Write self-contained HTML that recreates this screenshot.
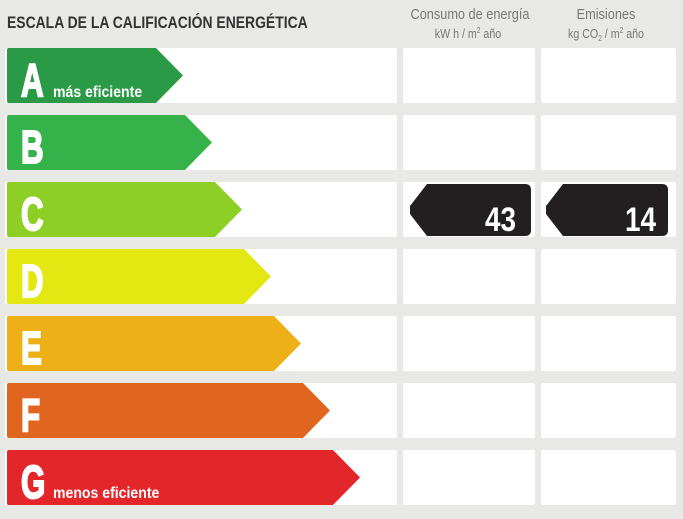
<!DOCTYPE html>
<html><head><meta charset="utf-8"><style>
html,body{margin:0;padding:0;background:#e8e8e7;}
svg{display:block;}
text{font-family:"Liberation Sans",sans-serif;}
</style></head><body>
<svg width="683" height="519" viewBox="0 0 683 519" xmlns="http://www.w3.org/2000/svg">
<rect width="683" height="519" fill="#e8e8e7"/>
<text x="7" y="28" font-size="17" font-weight="bold" fill="#333" transform="translate(7 0) scale(0.82 1) translate(-7 0)">ESCALA DE LA CALIFICACIÓN ENERGÉTICA</text>
<text x="470" y="19" font-size="15" fill="#777" text-anchor="middle" transform="translate(470 0) scale(0.85 1) translate(-470 0)">Consumo de energía</text>
<text x="468" y="38" font-size="13" fill="#777" text-anchor="middle" transform="translate(468 0) scale(0.82 1) translate(-468 0)">kW h / m<tspan font-size="8" dy="-5">2</tspan><tspan dy="5"> año</tspan></text>
<text x="606" y="19" font-size="15" fill="#777" text-anchor="middle" transform="translate(606 0) scale(0.85 1) translate(-606 0)">Emisiones</text>
<text x="606" y="38" font-size="13" fill="#777" text-anchor="middle" transform="translate(606 0) scale(0.82 1) translate(-606 0)">kg CO<tspan font-size="8" dy="3">2</tspan><tspan dy="-3"> / m</tspan><tspan font-size="8" dy="-5">2</tspan><tspan dy="5"> año</tspan></text>
<g fill="#fff">
<rect x="5" y="48" width="392" height="55" rx="2"/><rect x="403" y="48" width="132" height="55" rx="2"/><rect x="541" y="48" width="135" height="55" rx="2"/>
<rect x="5" y="115" width="392" height="55" rx="2"/><rect x="403" y="115" width="132" height="55" rx="2"/><rect x="541" y="115" width="135" height="55" rx="2"/>
<rect x="5" y="182" width="392" height="55" rx="2"/><rect x="403" y="182" width="132" height="55" rx="2"/><rect x="541" y="182" width="135" height="55" rx="2"/>
<rect x="5" y="249" width="392" height="55" rx="2"/><rect x="403" y="249" width="132" height="55" rx="2"/><rect x="541" y="249" width="135" height="55" rx="2"/>
<rect x="5" y="316" width="392" height="55" rx="2"/><rect x="403" y="316" width="132" height="55" rx="2"/><rect x="541" y="316" width="135" height="55" rx="2"/>
<rect x="5" y="383" width="392" height="55" rx="2"/><rect x="403" y="383" width="132" height="55" rx="2"/><rect x="541" y="383" width="135" height="55" rx="2"/>
<rect x="5" y="450" width="392" height="55" rx="2"/><rect x="403" y="450" width="132" height="55" rx="2"/><rect x="541" y="450" width="135" height="55" rx="2"/>
</g>
<path d="M9 48 H156 L183 75.5 L156 103 H9 Q7 103 7 101 V50 Q7 48 9 48Z" fill="#2a9a47"/>
<path d="M9 115 H185 L212 142.5 L185 170 H9 Q7 170 7 168 V117 Q7 115 9 115Z" fill="#35b34a"/>
<path d="M9 182 H215 L242 209.5 L215 237 H9 Q7 237 7 235 V184 Q7 182 9 182Z" fill="#8dcf24"/>
<path d="M9 249 H244 L271 276.5 L244 304 H9 Q7 304 7 302 V251 Q7 249 9 249Z" fill="#e3e813"/>
<path d="M9 316 H274 L301 343.5 L274 371 H9 Q7 371 7 369 V318 Q7 316 9 316Z" fill="#edb016"/>
<path d="M9 383 H303 L330 410.5 L303 438 H9 Q7 438 7 436 V385 Q7 383 9 383Z" fill="#e0661f"/>
<path d="M9 450 H333 L360 477.5 L333 505 H9 Q7 505 7 503 V452 Q7 450 9 450Z" fill="#e3262a"/>
<g fill="#fff" stroke="#fff" stroke-width="2" font-weight="bold" font-size="46">
<text x="21" y="96" transform="translate(21 0) scale(0.68 1) translate(-21 0)">A</text>
<text x="21" y="163" transform="translate(21 0) scale(0.68 1) translate(-21 0)">B</text>
<text x="21" y="230" transform="translate(21 0) scale(0.68 1) translate(-21 0)">C</text>
<text x="21" y="297" transform="translate(21 0) scale(0.68 1) translate(-21 0)">D</text>
<text x="21" y="364" transform="translate(21 0) scale(0.68 1) translate(-21 0)">E</text>
<text x="21" y="431" transform="translate(21 0) scale(0.68 1) translate(-21 0)">F</text>
<text x="21" y="498" transform="translate(21 0) scale(0.68 1) translate(-21 0)">G</text>
</g>
<text x="53" y="97" font-size="16" fill="#fff" font-weight="bold" transform="translate(53 0) scale(0.88 1) translate(-53 0)">más eficiente</text>
<text x="53" y="498" font-size="16" fill="#fff" font-weight="bold" transform="translate(53 0) scale(0.88 1) translate(-53 0)">menos eficiente</text>
<path d="M427 184 H525 Q531 184 531 190 V230 Q531 236 525 236 H427 L410 214 V206 Z" fill="#231f20"/>
<path d="M563 184 H662 Q668 184 668 190 V230 Q668 236 662 236 H563 L546 214 V206 Z" fill="#231f20"/>
<text x="516" y="231" font-size="34" font-weight="bold" fill="#fff" text-anchor="end" transform="translate(516 0) scale(0.82 1) translate(-516 0)">43</text>
<text x="656" y="231" font-size="34" font-weight="bold" fill="#fff" text-anchor="end" transform="translate(656 0) scale(0.82 1) translate(-656 0)">14</text>
</svg>
</body></html>
